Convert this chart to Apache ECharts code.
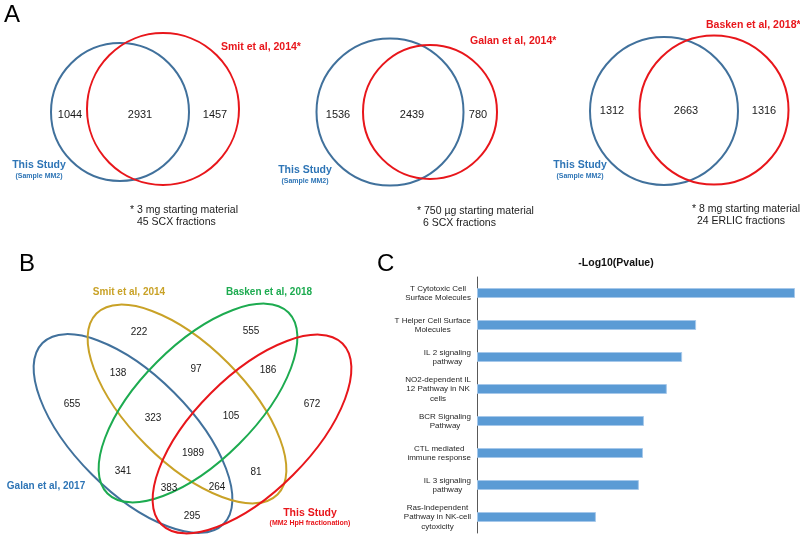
<!DOCTYPE html>
<html>
<head>
<meta charset="utf-8">
<script src="https://cdn.jsdelivr.net/npm/echarts@6/dist/echarts.min.js"></script>
<style>
html,body{margin:0;padding:0;background:#fff;}
#chart{width:800px;height:537px;}
</style>
</head>
<body>
<div id="chart"></div>
<script>
// ---------- DATA ----------
// Panel A: three two-set Venn diagrams (This Study vs. other study)
const vennA_otherNames = ['Smit et al, 2014*', 'Galan et al, 2014*', 'Basken et al, 2018*'];
const vennA_thisOnly = [1044, 1536, 1312];
const vennA_shared = [2931, 2439, 2663];
const vennA_otherOnly = [1457, 780, 1316];
const vennA_noteLine1 = ['* 3 mg starting material', '* 750 µg starting material', '* 8 mg starting material'];
const vennA_noteLine2 = ['45 SCX fractions', '6 SCX fractions', '24 ERLIC fractions'];

// Panel B: four-set Venn diagram
const vennB_setNames = ['Galan et al, 2017', 'Smit et al, 2014', 'Basken et al, 2018', 'This Study'];
const vennB_regions = ['S', 'B', 'GS', 'SB', 'BT', 'G', 'GSB', 'SBT', 'T', 'GSBT', 'GB', 'ST', 'GBT', 'GST', 'GT'];
const vennB_counts = [222, 555, 138, 97, 186, 655, 323, 105, 672, 1989, 341, 81, 383, 264, 295];

// Panel C: pathway enrichment
const pathways = [
  'T Cytotoxic Cell\nSurface Molecules',
  'T Helper Cell Surface\nMolecules',
  'IL 2 signaling\npathway',
  'NO2-dependent IL\n12 Pathway in NK\ncells',
  'BCR Signaling\nPathway',
  'CTL mediated\nimmune response',
  'IL 3 signaling\npathway',
  'Ras-Independent\nPathway in NK-cell\ncytoxicity'
];
const negLog10P = [10.0, 6.89, 6.45, 5.97, 5.25, 5.22, 5.09, 3.74];

// ---------- STYLE / LAYOUT ----------
const FONT = "'Liberation Sans', Arial, Helvetica, sans-serif";
const C_BLUE_LINE = '#41719C';
const C_BLUE_TEXT = '#2E75B6';
const C_RED = '#E8161B';
const C_GOLD = '#C9A227';
const C_GREEN = '#1DAB50';
const C_TEXT = '#1a1a1a';

function txt(x, y, text, opts) {
  opts = opts || {};
  const size = opts.size || 11;
  const weight = opts.bold ? 'bold ' : '';
  const align = opts.align || 'center';
  const valign = opts.valign || 'middle';
  return {
    type: 'text', x: x, y: y, silent: true,
    style: {
      text: text, fill: opts.color || C_TEXT,
      font: weight + size + 'px ' + FONT,
      align: align, verticalAlign: valign,
      textAlign: align, textVerticalAlign: valign
    }
  };
}
function circle(cx, cy, r, color) {
  return { type: 'circle', silent: true, shape: { cx: cx, cy: cy, r: r },
    style: { fill: 'none', stroke: color, lineWidth: 2 } };
}
function ellipse(cx, cy, rx, ry, rot, color) {
  return { type: 'ellipse', silent: true, x: cx, y: cy, rotation: rot,
    shape: { cx: 0, cy: 0, rx: rx, ry: ry },
    style: { fill: 'none', stroke: color, lineWidth: 2 } };
}

const graphics = [];
// Panel letters
graphics.push(txt(4, 15, 'A', { size: 24, align: 'left', color: '#000' }));
graphics.push(txt(19, 264, 'B', { size: 24, align: 'left', color: '#000' }));
graphics.push(txt(377, 264, 'C', { size: 24, align: 'left', color: '#000' }));

// Panel A layout
const A_layout = [
  { blue: [120, 112, 69], red: [163, 109, 76], nums: [[70,115],[140,115],[215,115]],
    name: [221, 47], thisS: [39, 165], note: [130, 210], note2: [137, 222] },
  { blue: [390, 112, 73.5], red: [430, 112, 67], nums: [[338,115],[412,115],[478,115]],
    name: [470, 41], thisS: [305, 170], note: [417, 211], note2: [423, 223] },
  { blue: [664, 111, 74], red: [714, 110, 74.5], nums: [[612,111],[686,111],[764,111]],
    name: [706, 25], thisS: [580, 165], note: [692, 209], note2: [697, 221] }
];
A_layout.forEach(function (L, i) {
  graphics.push(circle(L.blue[0], L.blue[1], L.blue[2], C_BLUE_LINE));
  graphics.push(circle(L.red[0], L.red[1], L.red[2], C_RED));
  graphics.push(txt(L.nums[0][0], L.nums[0][1], String(vennA_thisOnly[i]), { size: 11 }));
  graphics.push(txt(L.nums[1][0], L.nums[1][1], String(vennA_shared[i]), { size: 11 }));
  graphics.push(txt(L.nums[2][0], L.nums[2][1], String(vennA_otherOnly[i]), { size: 11 }));
  graphics.push(txt(L.name[0], L.name[1], vennA_otherNames[i], { size: 10.5, bold: true, color: C_RED, align: 'left' }));
  graphics.push(txt(L.thisS[0], L.thisS[1], 'This Study', { size: 10.5, bold: true, color: C_BLUE_TEXT }));
  graphics.push(txt(L.thisS[0], L.thisS[1] + 11, '(Sample MM2)', { size: 7, bold: true, color: C_BLUE_TEXT }));
  graphics.push(txt(L.note[0], L.note[1], vennA_noteLine1[i], { size: 10.5, align: 'left' }));
  graphics.push(txt(L.note2[0], L.note2[1], vennA_noteLine2[i], { size: 10.5, align: 'left' }));
});

// Panel B layout
const B_ell = [
  { c: [133, 433.5], rot: -Math.PI / 4, color: C_BLUE_LINE },
  { c: [187, 404], rot: -Math.PI / 4, color: C_GOLD },
  { c: [198, 403], rot: Math.PI / 4, color: C_GREEN },
  { c: [252, 434], rot: Math.PI / 4, color: C_RED }
];
B_ell.forEach(function (e) { graphics.push(ellipse(e.c[0], e.c[1], 128, 58, e.rot, e.color)); });
const B_pos = [[139,332],[251,331],[118,373],[196,369],[268,370],[72,404],[153,418],[231,416],[312,404],
               [193,453],[123,471],[256,472],[169,488],[217,487],[192,516]];
vennB_counts.forEach(function (v, i) { graphics.push(txt(B_pos[i][0], B_pos[i][1], String(v), { size: 10 })); });
graphics.push(txt(46, 486, vennB_setNames[0], { size: 10, bold: true, color: C_BLUE_TEXT }));
graphics.push(txt(129, 292, vennB_setNames[1], { size: 10, bold: true, color: C_GOLD }));
graphics.push(txt(269, 292, vennB_setNames[2], { size: 10, bold: true, color: C_GREEN }));
graphics.push(txt(310, 513, vennB_setNames[3], { size: 10.5, bold: true, color: C_RED }));
graphics.push(txt(310, 523.5, '(MM2 HpH fractionation)', { size: 7, bold: true, color: C_RED }));

// Panel C title
graphics.push(txt(616, 263, '-Log10(Pvalue)', { size: 10.5, bold: true, color: '#111' }));

const chart = echarts.init(document.getElementById('chart'), null, { renderer: 'canvas' });
chart.setOption({
  animation: false,
  backgroundColor: '#ffffff',
  grid: { left: 477, top: 277, width: 318, height: 256, containLabel: false },
  xAxis: { type: 'value', min: 0, max: 10, show: false },
  yAxis: {
    type: 'category', data: pathways, inverse: true,
    axisTick: { show: false },
    splitLine: { show: false },
    axisLine: { show: true, lineStyle: { color: '#595959', width: 1 } },
    axisLabel: {
      margin: 6, align: 'right', color: '#262626',
      fontFamily: FONT, fontSize: 8, lineHeight: 9.3,
      formatter: function (v) {
        return v.split('\n').map(function (s) { return '{c|' + s + '}'; }).join('\n');
      },
      rich: { c: { align: 'center', fontFamily: FONT, fontSize: 8, lineHeight: 9.3, color: '#262626' } }
    }
  },
  series: [{
    type: 'bar', data: negLog10P, barWidth: 10,
    itemStyle: { color: '#5B9BD5', borderColor: '#A6C8EA', borderWidth: 1 },
    silent: true
  }],
  graphic: graphics
});
</script>
</body>
</html>
